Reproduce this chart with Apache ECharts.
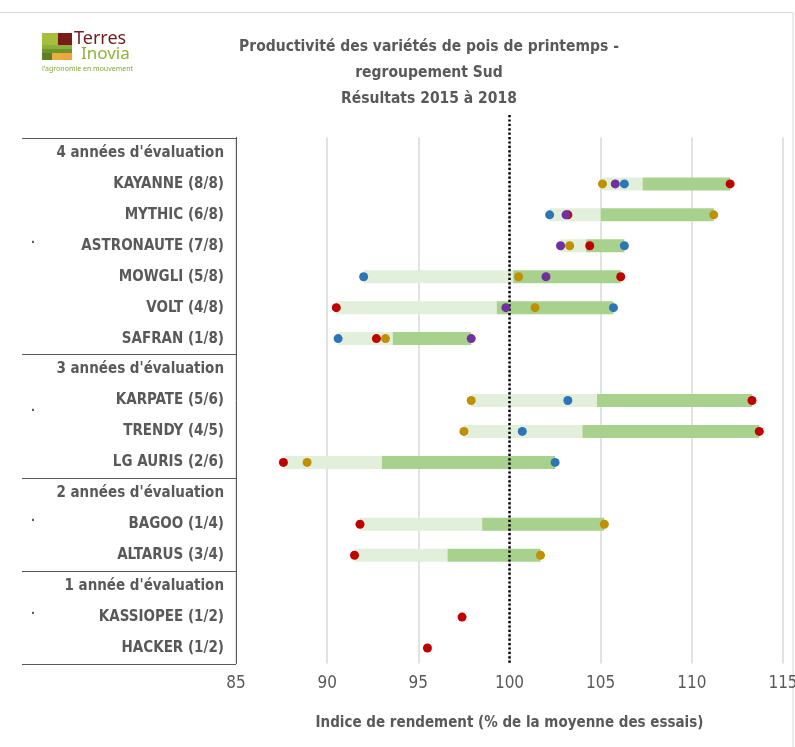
<!DOCTYPE html>
<html>
<head>
<meta charset="utf-8">
<script src="https://cdn.jsdelivr.net/npm/echarts@6/dist/echarts.min.js"></script>
<style>
  html, body { margin: 0; padding: 0; background: #fff; }
  #chart { width: 795px; height: 747px; }
</style>
</head>
<body>
<div id="chart"></div>
<script>
// rows of the left table, top to bottom
var categories = [
    "4 années d'évaluation",
    "KAYANNE (8/8)",
    "MYTHIC (6/8)",
    "ASTRONAUTE (7/8)",
    "MOWGLI (5/8)",
    "VOLT (4/8)",
    "SAFRAN (1/8)",
    "3 années d'évaluation",
    "KARPATE (5/6)",
    "TRENDY (4/5)",
    "LG AURIS (2/6)",
    "2 années d'évaluation",
    "BAGOO (1/4)",
    "ALTARUS (3/4)",
    "1 année d'évaluation",
    "KASSIOPEE (1/2)",
    "HACKER (1/2)"
];
var headerRows = [0, 7, 11, 14];

// yearly indices (dots), null = not tested
var y2015 = [null, 105.8, 103.1, 102.8, 102.0, 99.8, 97.9, null, null, null, null, null, null, null, null, null, null];
var y2016 = [null, 106.3, 102.2, 106.3, 92.0, 105.7, 90.6, null, 103.2, 100.7, 102.5, null, null, null, null, null, null];
var y2017 = [null, 105.1, 111.2, 103.3, 100.5, 101.4, 93.2, null, 97.9, 97.5, 88.9, null, 105.2, 101.7, null, null, null];
var y2018 = [null, 112.1, 103.2, 104.4, 106.1, 90.5, 92.7, null, 113.3, 113.7, 87.6, null, 91.8, 91.5, null, 97.4, 95.5];

// bars: min -> mean (light green), mean -> max (dark green)
var barLow  = [null, 105.1, 102.2, 102.8, 92.0, 90.5, 90.6, null, 97.9, 97.5, 87.6, null, 91.8, 91.5, null, null, null];
var barMean = [null, 107.3, 105.0, 104.2, 100.2, 99.3, 93.6, null, 104.8, 104.0, 93.0, null, 98.5, 96.6, null, null, null];
var barHigh = [null, 112.1, 111.2, 106.3, 106.1, 105.7, 97.9, null, 113.3, 113.7, 102.5, null, 105.2, 101.7, null, null, null];

var xTicks = [85, 90, 95, 100, 105, 110, 115];
var refValue = 100;

var txt = '#595959';
var font = "'Liberation Sans Narrow', 'DejaVu Sans Condensed', 'Open Sans', sans-serif";

function dots(arr) {
    var out = [];
    for (var i = 0; i < arr.length; i++) {
        if (arr[i] != null) out.push([arr[i], i]);
    }
    return out;
}

function diff(a, b) {
    var out = [];
    for (var i = 0; i < a.length; i++) {
        out.push(a[i] == null ? '-' : +(a[i] - b[i]).toFixed(2));
    }
    return out;
}

// table separators: [row, -0.5 = top of row / 0.5 = bottom of row]
var tableLines = headerRows.map(function (r) { return [r, -0.5]; });
tableLines.push([categories.length - 1, 0.5]);

var myChart = echarts.init(document.getElementById('chart'));
var option;

option = {
    animation: false,
    backgroundColor: '#fff',
    textStyle: { fontFamily: font },
    title: {
        text: 'Productivité des variétés de pois de printemps -\nregroupement Sud\nRésultats 2015 à 2018',
        left: 424,
        top: 29,
        textAlign: 'center',
        textStyle: {
            color: txt,
            fontSize: 15.5,
            fontWeight: 'bold',
            lineHeight: 26,
            fontFamily: font
        }
    },
    grid: {
        left: 236,
        right: 12,
        top: 137.5,
        bottom: 83.5,
        outerBoundsMode: 'none'
    },
    xAxis: {
        type: 'value',
        min: xTicks[0],
        max: xTicks[xTicks.length - 1],
        interval: 5,
        name: 'Indice de rendement (% de la moyenne des essais)',
        nameLocation: 'middle',
        nameGap: 52,
        nameTextStyle: { color: txt, fontSize: 15, fontWeight: 'bold' },
        axisLine: { show: false },
        axisTick: { show: false },
        axisLabel: { color: txt, fontSize: 17, margin: 12 },
        splitLine: { lineStyle: { color: '#D9D9D9', width: 1.5 } }
    },
    yAxis: {
        type: 'category',
        data: categories,
        inverse: true,
        axisLine: { show: true, lineStyle: { color: '#595959', width: 1 } },
        axisTick: { show: false },
        axisLabel: {
            color: txt,
            fontSize: 15,
            fontWeight: 'bold',
            margin: 12
        },
        splitLine: { show: false }
    },
    series: [
        {
            name: 'base',
            type: 'bar',
            stack: 'range',
            barWidth: 13,
            itemStyle: { color: 'transparent' },
            data: barLow.map(function (v) { return v == null ? '-' : v; }),
            silent: true
        },
        {
            name: 'min-moyenne',
            type: 'bar',
            stack: 'range',
            barWidth: 13,
            itemStyle: { color: '#E2EFDA' },
            data: diff(barMean, barLow)
        },
        {
            name: 'moyenne-max',
            type: 'bar',
            stack: 'range',
            barWidth: 13,
            itemStyle: { color: '#A9D18E' },
            data: diff(barHigh, barMean)
        },
        {
            name: '2018',
            type: 'scatter',
            symbolSize: 9,
            itemStyle: { color: '#C00000', opacity: 1 },
            data: dots(y2018),
            z: 5
        },
        {
            name: '2017',
            type: 'scatter',
            symbolSize: 9,
            itemStyle: { color: '#BF9000', opacity: 1 },
            data: dots(y2017),
            z: 5
        },
        {
            name: '2016',
            type: 'scatter',
            symbolSize: 9,
            itemStyle: { color: '#2E75B6', opacity: 1 },
            data: dots(y2016),
            z: 5
        },
        {
            name: '2015',
            type: 'scatter',
            symbolSize: 9,
            itemStyle: { color: '#7030A0', opacity: 1 },
            data: dots(y2015),
            z: 5
        },
        {
            // reference line at 100
            name: 'ref',
            type: 'custom',
            clip: false,
            silent: true,
            z: 4,
            data: [[refValue]],
            renderItem: function (params, api) {
                var x = api.coord([api.value(0), 0])[0];
                var cs = params.coordSys;
                return {
                    type: 'line',
                    shape: { x1: x, y1: 115, x2: x, y2: cs.y + cs.height },
                    style: { stroke: '#000', lineWidth: 2.5, lineDash: [2.2, 2.2] }
                };
            }
        },
        {
            // left table horizontal lines
            name: 'table',
            type: 'custom',
            clip: false,
            silent: true,
            data: tableLines,
            renderItem: function (params, api) {
                var c = api.coord([xTicks[0], api.value(0)]);
                var band = api.size([0, 1])[1];
                var y = Math.round(c[1] + api.value(1) * band) + 0.5;
                return {
                    type: 'line',
                    shape: { x1: 22, y1: y, x2: c[0], y2: y },
                    style: { stroke: '#595959', lineWidth: 1 }
                };
            }
        }
    ],
    graphic: [
        {
            type: 'rect',
            shape: { x: -2, y: 12.5, width: 795, height: 800 },
            style: { fill: 'none', stroke: '#D9D9D9', lineWidth: 1 },
            silent: true
        },
        // logo
        {
            type: 'group',
            left: 42,
            top: 30,
            silent: true,
            children: [
                { type: 'rect', shape: { x: 0, y: 0, width: 16, height: 12 }, style: { fill: '#A5BE3C' } },
                { type: 'rect', shape: { x: 16, y: 0, width: 14, height: 12 }, style: { fill: '#7A1A1A' } },
                { type: 'rect', shape: { x: 0, y: 12, width: 30, height: 4 }, style: { fill: '#8DB03B' } },
                { type: 'rect', shape: { x: 0, y: 16, width: 30, height: 4 }, style: { fill: '#6D952C' } },
                { type: 'rect', shape: { x: 0, y: 20, width: 10, height: 7 }, style: { fill: '#5E7F27' } },
                { type: 'rect', shape: { x: 10, y: 20, width: 10, height: 7 }, style: { fill: '#E5B041' } },
                { type: 'rect', shape: { x: 20, y: 20, width: 10, height: 7 }, style: { fill: '#F0A43A' } },
                { type: 'text', x: 32, y: -3, style: { text: 'Terres', fill: '#6E1E1E', font: '18px "Noto Sans", sans-serif' } },
                { type: 'text', x: 39, y: 13, style: { text: 'Inovia', fill: '#8DB33A', font: '17px "Noto Sans", sans-serif' } },
                { type: 'text', x: 0, y: 32, style: { text: "l'agronomie en mouvement", fill: '#7FA834', font: '7px "Noto Sans", sans-serif' } }
            ]
        },
        { type: 'text', left: 31, top: 236, style: { text: '·', fill: txt, font: 'bold 14px sans-serif' } },
        { type: 'text', left: 31, top: 404, style: { text: '·', fill: txt, font: 'bold 14px sans-serif' } },
        { type: 'text', left: 31, top: 514, style: { text: '·', fill: txt, font: 'bold 14px sans-serif' } },
        { type: 'text', left: 31, top: 607, style: { text: '·', fill: txt, font: 'bold 14px sans-serif' } }
    ]
};
option && myChart.setOption(option);
</script>
</body>
</html>
